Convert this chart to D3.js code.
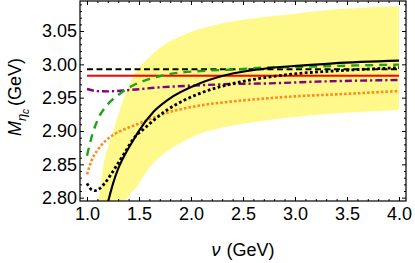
<!DOCTYPE html>
<html>
<head>
<meta charset="utf-8">
<script src="https://cdn.jsdelivr.net/npm/d3@7"></script>
<style>
  body { margin: 0; background: #fff; }
  text { font-family: "Liberation Sans", Arial, sans-serif; fill: #000; }
</style>
</head>
<body>
<svg id="graph" width="415" height="263"></svg>
<script>
// tick values
var xMajor = [1.0, 1.5, 2.0, 2.5, 3.0, 3.5, 4.0];
var yMajor = [2.80, 2.85, 2.90, 2.95, 3.00, 3.05];

// band (yellow) edges, [nu, M]
var bandUpper = [[1.08, 2.77], [1.11, 2.795], [1.17, 2.859], [1.24, 2.894], [1.30, 2.924], [1.365, 2.9535],
  [1.43, 2.977], [1.49, 2.993], [1.574, 3.007], [1.73, 3.028], [1.9, 3.042], [2.055, 3.0515],
  [2.375, 3.064], [2.73, 3.0715], [3.0, 3.076], [3.4, 3.0825], [4.0, 3.0875]];
var bandLower = [[1.34, 2.77], [1.365, 2.794], [1.42, 2.806], [1.49, 2.8185], [1.574, 2.84], [1.73, 2.865],
  [2.055, 2.894], [2.375, 2.9075], [2.695, 2.9155], [3.0, 2.921], [3.4, 2.9265], [4.0, 2.9315]];

// horizontal lines
var redLevel = 2.983;
var blackDashLevel = 2.9925;
var hRange = [1.0, 4.0];

// curves
var purple = [[1.0, 2.963], [1.1, 2.9598], [1.2, 2.9595], [1.41, 2.9615], [1.7, 2.9655], [2.0, 2.968],
  [2.4, 2.9705], [2.76, 2.9715], [3.2, 2.974], [3.6, 2.9755], [4.0, 2.9765]];
var green = [[1.0, 2.863], [1.05, 2.894], [1.1, 2.916], [1.2, 2.940], [1.3, 2.954], [1.45, 2.969],
  [1.6, 2.978], [1.8, 2.9855], [2.1, 2.990], [2.44, 2.9925], [2.7, 2.995], [3.0, 2.996], [3.5, 2.998], [4.0, 2.9995]];
var orange = [[1.0, 2.835], [1.045, 2.856], [1.1, 2.871], [1.17, 2.884], [1.25, 2.894], [1.35, 2.902],
  [1.49, 2.9105], [1.64, 2.920], [1.734, 2.9255], [2.055, 2.9375], [2.375, 2.944], [2.73, 2.949],
  [3.0, 2.952], [3.4, 2.955], [4.0, 2.960]];
var blackDot = [[1.0, 2.8215], [1.04, 2.8125], [1.077, 2.8105], [1.12, 2.8135], [1.17, 2.8215], [1.27, 2.8445],
  [1.365, 2.868], [1.445, 2.888], [1.56, 2.905], [1.64, 2.916], [1.77, 2.9315], [2.087, 2.9565],
  [2.41, 2.9715], [2.73, 2.9805], [3.05, 2.9865], [3.37, 2.990], [4.0, 2.995]];
var blackSolid = [[1.19, 2.785], [1.205, 2.795], [1.25, 2.821], [1.30, 2.8435], [1.38, 2.869], [1.445, 2.886],
  [1.49, 2.898], [1.64, 2.929], [1.77, 2.946], [2.087, 2.9715], [2.41, 2.9865], [2.73, 2.994],
  [3.05, 2.998], [3.37, 3.0015], [4.0, 3.0055]];

var svg = d3.select("#graph");
var margin = { top: 1, right: 9, bottom: 62, left: 80 };
var width = +svg.attr("width") - margin.left - margin.right;
var height = +svg.attr("height") - margin.top - margin.bottom;
var g = svg.append("g").attr("transform", "translate(" + margin.left + "," + margin.top + ")");

var x = d3.scaleLinear().domain([0.9327, 4.0673]).range([0, width]);
var y = d3.scaleLinear().domain([2.795, 3.095]).range([height, 0]);

svg.append("defs").append("clipPath").attr("id", "clip")
  .append("rect").attr("width", width).attr("height", height);

var plot = g.append("g").attr("clip-path", "url(#clip)");

// banda amarilla
var edge = d3.line().x(d => x(d[0])).y(d => y(d[1])).curve(d3.curveCatmullRom.alpha(0.5));
var bandPath = edge(bandUpper) + "L" + edge(bandLower.slice().reverse()).slice(1) + "Z";
plot.append("path").attr("d", bandPath).attr("fill", "#fff98c").attr("stroke", "none");

var line = d3.line().x(d => x(d[0])).y(d => y(d[1])).curve(d3.curveMonotoneX);

// lineas horizontales
plot.append("path")
  .attr("d", line(hRange.map(v => [v, blackDashLevel])))
  .attr("fill", "none").attr("stroke", "#000").attr("stroke-width", 2)
  .attr("stroke-dasharray", "6,3.5");
plot.append("path")
  .attr("d", line(hRange.map(v => [v, redLevel])))
  .attr("fill", "none").attr("stroke", "#ff0000").attr("stroke-width", 2);

plot.append("path").attr("d", line(purple))
  .attr("fill", "none").attr("stroke", "#800080").attr("stroke-width", 2.4)
  .attr("stroke-dasharray", "7,3,2.2,3");
plot.append("path").attr("d", line(green))
  .attr("fill", "none").attr("stroke", "#1fa01f").attr("stroke-width", 2.4)
  .attr("stroke-dasharray", "8,6");
plot.append("path").attr("d", line(orange))
  .attr("fill", "none").attr("stroke", "#ff8a1c").attr("stroke-width", 2.6)
  .attr("stroke-dasharray", "2.6,2");
plot.append("path").attr("d", line(blackDot))
  .attr("fill", "none").attr("stroke", "#000").attr("stroke-width", 2.8)
  .attr("stroke-dasharray", "2.8,2.4");
plot.append("path").attr("d", line(blackSolid))
  .attr("fill", "none").attr("stroke", "#000").attr("stroke-width", 2.1);

// marco con ticks hacia adentro
var xMinor = d3.range(10, 41).map(v => v / 10).filter(v => xMajor.indexOf(v) < 0);
var yMinor = d3.range(280, 310).map(v => v / 100).filter(v => yMajor.every(m => Math.abs(m - v) > 1e-9));

function ticks(axisFn, scale, vals, size, fmt) {
  return axisFn(scale).tickValues(vals).tickSizeInner(size).tickSizeOuter(0).tickFormat(fmt);
}
var fmtX = d3.format(".1f"), fmtY = d3.format(".2f");

var gb = g.append("g").attr("transform", "translate(0," + height + ")");
gb.call(ticks(d3.axisBottom, x, xMajor, -4, fmtX).tickPadding(6));
gb.append("g").call(ticks(d3.axisBottom, x, xMinor, -2, ""));
var gt = g.append("g");
gt.call(ticks(d3.axisTop, x, xMajor, -4, ""));
gt.append("g").call(ticks(d3.axisTop, x, xMinor, -2, ""));
var gl = g.append("g");
gl.call(ticks(d3.axisLeft, y, yMajor, -4, fmtY).tickPadding(3));
gl.append("g").call(ticks(d3.axisLeft, y, yMinor, -2, ""));
var gr = g.append("g").attr("transform", "translate(" + width + ",0)");
gr.call(ticks(d3.axisRight, y, yMajor, -4, ""));
gr.append("g").call(ticks(d3.axisRight, y, yMinor, -2, ""));

g.selectAll(".domain").remove();
g.selectAll(".tick line").attr("stroke", "#000").attr("stroke-width", 1);
g.selectAll(".tick text").style("font-size", "18px").style("font-family", "'Liberation Sans', Arial, sans-serif");
gb.selectAll(".tick text").attr("dy", "0.71em");

g.append("rect").attr("width", width).attr("height", height)
  .attr("fill", "none").attr("stroke", "#000").attr("stroke-width", 1.2);

// titulos de ejes
var xt = svg.append("text")
  .attr("x", margin.left + width / 2).attr("y", 256)
  .attr("text-anchor", "middle").style("font-size", "18px");
xt.append("tspan").style("font-style", "italic").text("ν");
xt.append("tspan").attr("dx", 6).text("(GeV)");

var yt = svg.append("text")
  .attr("transform", "translate(21," + (margin.top + height / 2 - 4) + ") rotate(-90)")
  .attr("text-anchor", "middle").style("font-size", "18px");
yt.append("tspan").style("font-style", "italic").text("M");
yt.append("tspan").style("font-style", "italic").style("font-size", "13px").attr("dy", 5).text("η");
yt.append("tspan").style("font-style", "italic").style("font-size", "10px").attr("dy", 3).text("c");
yt.append("tspan").attr("dy", -8).attr("dx", 3).text("(GeV)");
</script>
</body>
</html>
